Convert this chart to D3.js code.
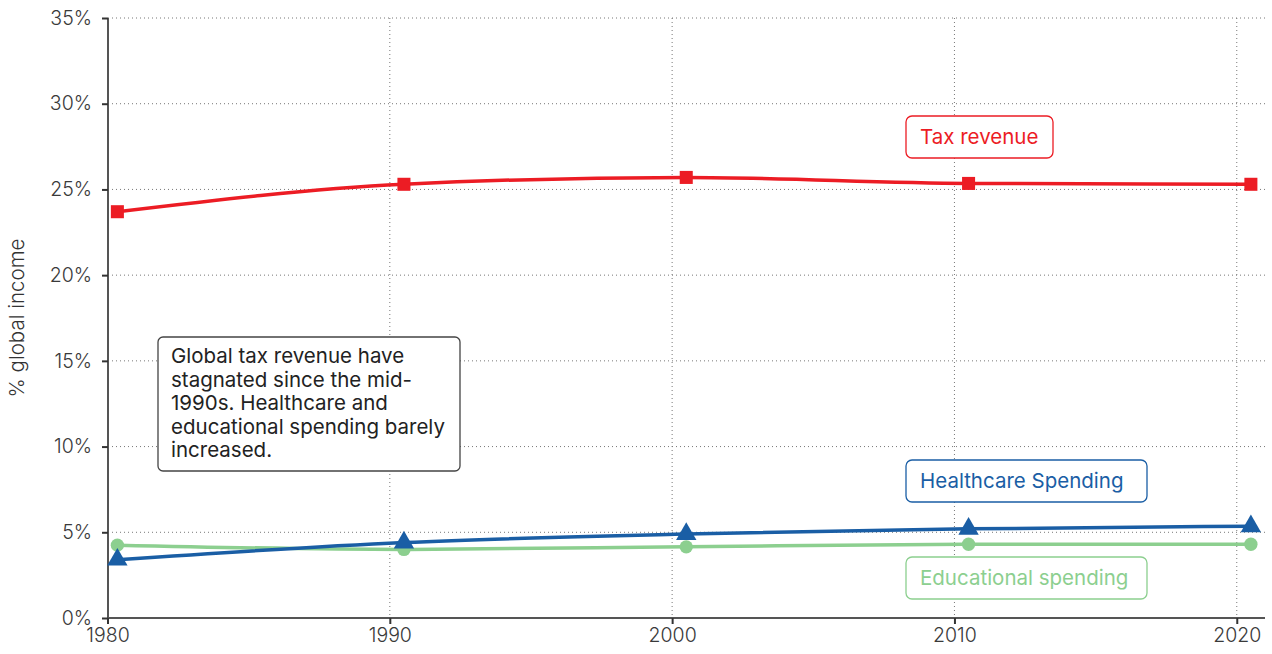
<!DOCTYPE html>
<html>
<head>
<meta charset="utf-8">
<script src="https://cdn.jsdelivr.net/npm/d3@7"></script>
<style>
  body { margin: 0; background: #fff; }
  svg text { font-family: Inter, "Noto Sans", sans-serif; }
</style>
</head>
<body>
<div id="chart"></div>
<script>
// data
const years = [1980.35, 1990.5, 2000.5, 2010.5, 2020.5]
const taxRevenue = [23.7, 25.3, 25.7, 25.35, 25.3]
const healthcare = [3.4, 4.4, 4.9, 5.2, 5.35]
const educational = [4.25, 4.0, 4.15, 4.3, 4.3]
const xTicks = [1980, 1990, 2000, 2010, 2020]
const yTicks = [0, 5, 10, 15, 20, 25, 30, 35]
const note = ['Global tax revenue have', 'stagnated since the mid-', '1990s. Healthcare and',
  'educational spending barely', 'increased.']

const W = 1272, H = 654
const svg = d3.select('#chart').append('svg')
  .attr('width', W).attr('height', H)

const x = d3.scaleLinear().domain([1980, 2021]).range([107.5, 1265])
const y = d3.scaleLinear().domain([0, 35]).range([618, 18])

// grid
svg.append('g').selectAll('line').data(yTicks.slice(1))
  .join('line')
  .attr('x1', 108).attr('x2', 1265)
  .attr('y1', d => y(d)).attr('y2', d => y(d))
  .attr('stroke', '#777').attr('stroke-width', 1).attr('stroke-dasharray', '1,3')
svg.append('g').selectAll('line').data(xTicks.slice(1))
  .join('line')
  .attr('x1', d => x(d)).attr('x2', d => x(d))
  .attr('y1', 18).attr('y2', 618)
  .attr('stroke', '#777').attr('stroke-width', 1).attr('stroke-dasharray', '1,3')

// axes
const yAxis = svg.append('g').attr('transform', 'translate(108,0)')
  .call(d3.axisLeft(y).tickValues(yTicks).tickFormat(d => d + '%').tickSize(6).tickPadding(10))
const xAxis = svg.append('g').attr('transform', 'translate(0,618)')
  .call(d3.axisBottom(x).tickValues(xTicks).tickFormat(d3.format('d')).tickSize(6).tickPadding(4))
for (const a of [yAxis, xAxis]) {
  a.select('.domain').attr('stroke', '#555').attr('stroke-width', 2)
  a.selectAll('.tick line').attr('stroke', '#333').attr('stroke-width', 2)
  a.selectAll('text').attr('fill', '#3a3a3a').style('font-size', '19.5px').style('font-weight', 300)
}
xAxis.select('.domain').attr('d', 'M108,0H1265')
yAxis.select('.domain').attr('d', 'M0,18V618')

svg.append('text')
  .attr('transform', 'translate(24,318) rotate(-90)')
  .attr('text-anchor', 'middle')
  .attr('fill', '#333').style('font-size', '20.5px').style('font-weight', 300)
  .text('% global income')

const line = d3.line().x(d => x(d[0])).y(d => y(d[1])).curve(d3.curveMonotoneX)

const series = [
  { vals: educational, color: '#8ccf8f', shape: d3.symbolCircle, size: 140 },
  { vals: healthcare, color: '#1a5ea5', shape: d3.symbolTriangle, size: 180 },
  { vals: taxRevenue, color: '#ec1c24', shape: d3.symbolSquare, size: 170 }
]
series.forEach(s => {
  const pts = years.map((yr, i) => [yr, s.vals[i]])
  svg.append('path').datum(pts)
    .attr('d', line).attr('fill', 'none')
    .attr('stroke', s.color).attr('stroke-width', 3.5)
  svg.append('g').selectAll('path').data(pts)
    .join('path')
    .attr('d', d3.symbol().type(s.shape).size(s.size))
    .attr('transform', d => `translate(${x(d[0])},${y(d[1])})`)
    .attr('fill', s.color)
})

// series labels
const labels = [
  { text: 'Tax revenue', color: '#ec1c24', x: 906, y: 116, w: 147 },
  { text: 'Healthcare Spending', color: '#1a5ea5', x: 906, y: 460, w: 241 },
  { text: 'Educational spending', color: '#8ccf8f', x: 906, y: 557, w: 241 }
]
labels.forEach(l => {
  svg.append('rect')
    .attr('x', l.x).attr('y', l.y).attr('width', l.w).attr('height', 42)
    .attr('rx', 6).attr('fill', '#fff').attr('stroke', l.color).attr('stroke-width', 1.3)
  svg.append('text')
    .attr('x', l.x + 14).attr('y', l.y + 28)
    .attr('fill', l.color).style('font-size', '20.5px')
    .text(l.text)
})

// annotation box
svg.append('rect')
  .attr('x', 158).attr('y', 337).attr('width', 302).attr('height', 134)
  .attr('rx', 5).attr('fill', '#fff').attr('stroke', '#444').attr('stroke-width', 1.3)
svg.append('g').selectAll('text').data(note)
  .join('text')
  .attr('x', 171).attr('y', (d, i) => 363 + i * 23.5)
  .attr('fill', '#222').style('font-size', '20.5px')
  .text(d => d)
</script>
</body>
</html>
